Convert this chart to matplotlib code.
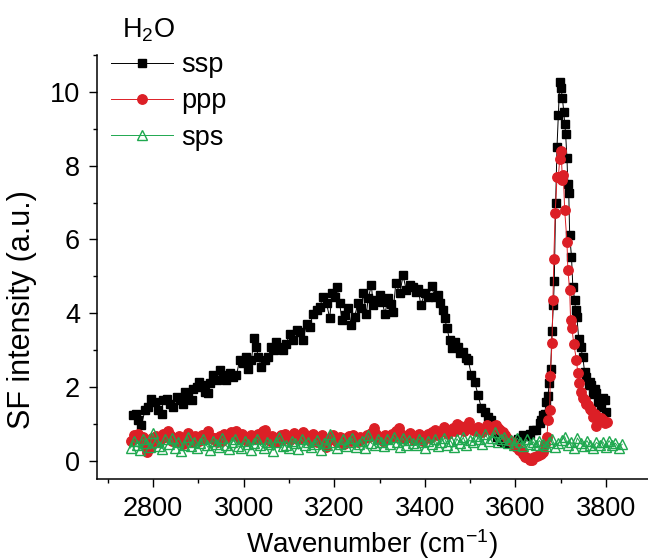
import matplotlib
matplotlib.use("Agg")
import matplotlib.pyplot as plt
import matplotlib.ticker as ticker

plt.rcParams["font.family"] = ["Liberation Sans", "DejaVu Sans"]
plt.rcParams["mathtext.fontset"] = "custom"
plt.rcParams["mathtext.rm"] = "Liberation Sans"
plt.rcParams["mathtext.it"] = "Liberation Sans:italic"

# ssp (black squares)
ssp_x = [2756, 2763, 2767, 2774, 2782, 2789, 2796, 2804, 2811, 2819,
         2822, 2830, 2837, 2844, 2852, 2859, 2866, 2871, 2877, 2885,
         2888, 2896, 2901, 2907, 2914, 2921, 2925, 2932, 2940, 2947,
         2955, 2962, 2969, 2977, 2984, 2991, 2999, 3006, 3010, 3017,
         3023, 3028, 3032, 3039, 3047, 3054, 3061, 3066, 3072, 3080,
         3087, 3094, 3102, 3109, 3117, 3124, 3131, 3139, 3146, 3153,
         3161, 3168, 3175, 3183, 3190, 3195, 3201, 3206, 3212, 3217,
         3223, 3230, 3238, 3245, 3252, 3260, 3264, 3271, 3275, 3282,
         3286, 3289, 3300, 3306, 3312, 3319, 3325, 3330, 3336, 3345,
         3352, 3359, 3367, 3374, 3381, 3386, 3391, 3400, 3407, 3415,
         3422, 3429, 3434, 3440, 3444, 3449, 3455, 3459, 3466, 3473,
         3477, 3485, 3490, 3496, 3503, 3510, 3518, 3525, 3532, 3540,
         3547, 3553, 3560, 3568, 3575, 3582, 3590, 3598, 3605, 3612,
         3617, 3625, 3632, 3639, 3646, 3654, 3657, 3661, 3665, 3668,
         3672, 3675, 3678, 3681, 3684, 3686, 3689, 3692, 3695, 3698,
         3701, 3704, 3707, 3709, 3711, 3714, 3716, 3718, 3720, 3724,
         3727, 3731, 3733, 3736, 3740, 3744, 3749, 3753, 3757, 3762,
         3765, 3768, 3772, 3775, 3779, 3782, 3786, 3790, 3793, 3797,
         3800]
ssp_y = [1.24, 1.28, 1.10, 0.97, 1.37, 1.46, 1.69, 1.60, 1.37, 1.28,
         1.64, 1.69, 1.55, 1.46, 1.73, 1.64, 1.55, 1.87, 1.73, 1.64,
         1.96, 2.00, 2.14, 2.05, 1.87, 1.83, 2.10, 2.32, 2.19, 2.46,
         2.32, 2.19, 2.37, 2.28, 2.32, 2.73, 2.64, 2.82, 2.50, 2.73,
         3.32, 3.09, 2.82, 2.55, 2.73, 2.82, 3.09, 3.00, 3.22, 3.09,
         3.00, 3.18, 3.45, 3.27, 3.54, 3.50, 3.27, 3.72, 3.63, 3.99,
         4.08, 4.17, 4.44, 4.27, 3.86, 4.54, 4.44, 4.72, 4.27, 3.81,
         3.95, 4.13, 3.68, 3.90, 4.27, 4.13, 4.54, 3.99, 4.40, 4.76,
         4.22, 4.35, 4.49, 4.30, 3.99, 4.40, 4.25, 4.04, 4.82, 4.54,
         5.03, 4.63, 4.76, 4.72, 4.58, 4.65, 4.22, 4.54, 4.44, 4.73,
         4.44, 4.49, 4.27, 4.08, 3.86, 3.59, 3.27, 3.05, 3.22, 3.09,
         2.91, 2.95, 2.80, 2.73, 2.32, 2.14, 1.78, 1.42, 1.33, 1.19,
         1.10, 0.85, 0.65, 0.55, 0.50, 0.48, 0.52, 0.55, 0.60, 0.62,
         0.70, 0.68, 0.74, 0.83, 0.83, 1.02, 1.10, 1.24, 1.28, 1.60,
         1.75, 2.11, 2.48, 3.52, 4.22, 4.88, 6.98, 8.50, 9.37, 10.27,
         10.10, 9.82, 9.45, 9.14, 8.87, 8.20, 7.50, 7.25, 6.12, 5.53,
         4.72, 4.35, 4.10, 3.90, 3.30, 3.09, 2.82, 2.40, 2.28, 2.05,
         2.15, 2.05, 1.80, 1.95, 1.83, 1.60, 1.64, 1.45, 1.70, 1.64,
         1.33]

# ppp (red circles)
ppp_x = [2752, 2757, 2762, 2767, 2772, 2777, 2782, 2787, 2792, 2797,
         2802, 2807, 2812, 2817, 2822, 2827, 2832, 2837, 2842, 2847,
         2852, 2857, 2862, 2867, 2872, 2877, 2882, 2887, 2892, 2897,
         2902, 2907, 2912, 2917, 2922, 2927, 2932, 2937, 2942, 2947,
         2952, 2957, 2962, 2967, 2972, 2977, 2982, 2987, 2992, 2997,
         3002, 3007, 3012, 3017, 3022, 3027, 3032, 3037, 3042, 3047,
         3052, 3057, 3062, 3067, 3072, 3077, 3082, 3087, 3092, 3097,
         3102, 3107, 3112, 3117, 3122, 3127, 3132, 3137, 3142, 3147,
         3152, 3157, 3162, 3167, 3172, 3177, 3182, 3187, 3192, 3197,
         3202, 3207, 3212, 3217, 3222, 3227, 3232, 3237, 3242, 3247,
         3252, 3257, 3262, 3267, 3272, 3277, 3282, 3287, 3292, 3297,
         3302, 3307, 3312, 3317, 3322, 3327, 3332, 3337, 3342, 3347,
         3352, 3357, 3362, 3367, 3372, 3377, 3382, 3387, 3392, 3397,
         3402, 3407, 3412, 3417, 3422, 3427, 3432, 3437, 3442, 3447,
         3452, 3457, 3462, 3467, 3472, 3477, 3482, 3487, 3492, 3497,
         3502, 3507, 3512, 3517, 3522, 3527, 3532, 3537, 3542, 3547,
         3552, 3557, 3562, 3567, 3572, 3577, 3582, 3587, 3592, 3597,
         3602, 3607, 3612, 3617, 3622, 3627, 3632, 3637, 3642, 3647,
         3652, 3657, 3662, 3666, 3670, 3672, 3676, 3677, 3681, 3683,
         3685, 3688, 3692, 3695, 3698, 3701, 3704, 3706, 3709, 3714,
         3716, 3720, 3722, 3725, 3729, 3735, 3738, 3740, 3746, 3750,
         3753, 3757, 3760, 3764, 3768, 3772, 3775, 3779, 3782, 3786,
         3790, 3793, 3797, 3802]
ppp_y = [0.55, 0.70, 0.62, 0.72, 0.58, 0.66, 0.45, 0.24, 0.35, 0.62,
         0.55, 0.68, 0.50, 0.60, 0.72, 0.65, 0.80, 0.70, 0.55, 0.62,
         0.50, 0.68, 0.58, 0.45, 0.66, 0.75, 0.60, 0.52, 0.68, 0.62,
         0.55, 0.70, 0.60, 0.74, 0.80, 0.66, 0.58, 0.62, 0.50, 0.68,
         0.55, 0.72, 0.62, 0.70, 0.78, 0.75, 0.80, 0.68, 0.60, 0.72,
         0.65, 0.55, 0.62, 0.70, 0.58, 0.66, 0.72, 0.60, 0.80, 0.85,
         0.62, 0.55, 0.68, 0.60, 0.52, 0.66, 0.70, 0.60, 0.74, 0.62,
         0.56, 0.68, 0.75, 0.62, 0.58, 0.66, 0.78, 0.70, 0.62, 0.55,
         0.72, 0.60, 0.52, 0.66, 0.70, 0.58, 0.38, 0.55, 0.62, 0.70,
         0.60, 0.52, 0.66, 0.58, 0.45, 0.62, 0.68, 0.55, 0.70, 0.60,
         0.52, 0.66, 0.58, 0.62, 0.70, 0.64, 0.75, 0.88, 0.72, 0.60,
         0.66, 0.55, 0.70, 0.62, 0.58, 0.72, 0.66, 0.80, 0.88, 0.72,
         0.66, 0.60, 0.70, 0.75, 0.62, 0.56, 0.68, 0.72, 0.60, 0.55,
         0.66, 0.72, 0.62, 0.79, 0.85, 0.70, 0.76, 0.82, 0.92, 0.78,
         0.72, 0.85, 0.90, 0.80, 1.01, 0.95, 0.88, 0.82, 0.94, 1.06,
         0.90, 0.85, 0.80, 0.92, 0.86, 0.78, 0.90, 0.97, 0.88, 0.84,
         0.95, 0.97, 0.90, 0.83, 0.78, 0.70, 0.62, 0.56, 0.50, 0.42,
         0.38, 0.29, 0.26, 0.20, 0.11, 0.08, 0.03, 0.02, 0.10, 0.14,
         0.15, 0.20, 0.25, 0.45, 0.65, 1.10, 1.37, 2.30, 3.20, 4.35,
         5.48, 6.72, 7.68, 7.70, 8.17, 8.40, 7.60, 7.75, 6.79, 5.94,
         5.17, 4.63, 3.83, 3.59, 3.18, 2.73, 2.37, 2.10, 1.86, 1.70,
         1.65, 1.55, 1.51, 1.40, 1.37, 1.20, 1.28, 0.94, 1.19, 1.10,
         1.15, 1.10, 1.02, 1.06]

# sps (green open triangles)
sps_x = [2750, 2757, 2764, 2771, 2778, 2785, 2792, 2799, 2806, 2813,
         2820, 2827, 2834, 2841, 2848, 2855, 2862, 2869, 2876, 2883,
         2890, 2897, 2904, 2911, 2918, 2925, 2932, 2939, 2946, 2953,
         2960, 2967, 2974, 2981, 2988, 2995, 3002, 3009, 3016, 3023,
         3030, 3037, 3044, 3051, 3058, 3065, 3072, 3079, 3086, 3093,
         3100, 3107, 3114, 3121, 3128, 3135, 3142, 3149, 3156, 3163,
         3170, 3177, 3184, 3191, 3198, 3205, 3212, 3219, 3226, 3233,
         3240, 3247, 3254, 3261, 3268, 3275, 3282, 3289, 3296, 3303,
         3310, 3317, 3324, 3331, 3338, 3345, 3352, 3359, 3366, 3373,
         3380, 3387, 3394, 3401, 3408, 3415, 3422, 3429, 3436, 3443,
         3450, 3457, 3464, 3471, 3478, 3485, 3492, 3499, 3506, 3513,
         3520, 3527, 3534, 3541, 3548, 3555, 3562, 3569, 3576, 3583,
         3590, 3597, 3604, 3611, 3618, 3625, 3632, 3639, 3646, 3653,
         3660, 3667, 3674, 3681, 3688, 3695, 3702, 3709, 3716, 3723,
         3730, 3737, 3744, 3751, 3758, 3765, 3772, 3779, 3786, 3793,
         3800, 3807, 3814, 3821, 3828, 3836]
sps_y = [0.35, 0.55, 0.42, 0.30, 0.60, 0.48, 0.38, 0.75, 0.52, 0.40,
         0.33, 0.58, 0.45, 0.62, 0.36, 0.50, 0.28, 0.44, 0.66, 0.40,
         0.52, 0.35, 0.48, 0.60, 0.42, 0.30, 0.55, 0.46, 0.38, 0.62,
         0.44, 0.32, 0.50, 0.58, 0.40, 0.36, 0.54, 0.45, 0.30, 0.48,
         0.60, 0.42, 0.35, 0.52, 0.46, 0.28, 0.50, 0.64, 0.40, 0.44,
         0.36, 0.55, 0.48, 0.32, 0.60, 0.42, 0.50, 0.38, 0.46, 0.56,
         0.30, 0.48, 0.42, 0.72, 0.52, 0.36, 0.45, 0.58, 0.40, 0.50,
         0.62, 0.38, 0.46, 0.55, 0.34, 0.70, 0.48, 0.42, 0.60, 0.52,
         0.40, 0.58, 0.46, 0.66, 0.50, 0.38, 0.62, 0.44, 0.56, 0.48,
         0.42, 0.60, 0.52, 0.36, 0.54, 0.46, 0.58, 0.40, 0.50, 0.62,
         0.44, 0.55, 0.38, 0.60, 0.48, 0.64, 0.42, 0.56, 0.50, 0.68,
         0.58, 0.46, 0.72, 0.55, 0.62, 0.78, 0.50, 0.60, 0.66, 0.48,
         0.56, 0.44, 0.62, 0.50, 0.40, 0.58, 0.46, 0.52, 0.42, 0.55,
         0.45, 0.40, 0.52, 0.60, 0.38, 0.48, 0.56, 0.66, 0.44, 0.50,
         0.36, 0.62, 0.48, 0.40, 0.55, 0.42, 0.34, 0.50, 0.44, 0.52,
         0.38, 0.55, 0.42, 0.48, 0.36, 0.45]

RED = "#dc1f26"
GREEN = "#1fa84f"

fig = plt.figure(figsize=(6.48, 5.6), dpi=100)
ax = fig.add_axes([0.149, 0.144, 0.851, 0.758])

ax.plot(ssp_x, ssp_y, "-", color="black", lw=0.7, marker="s", ms=6.3,
        mfc="black", mec="black", label="ssp")
ax.plot(ppp_x, ppp_y, "-", color=RED, lw=0.7, marker="o", ms=6.8,
        mfc=RED, mec=RED, label="ppp")
ax.plot(sps_x, sps_y, "-", color=GREEN, lw=0.7, marker="^", ms=7.5,
        mfc="none", mec=GREEN, mew=1.0, label="sps")

ax.set_xlim(2675, 3893)
ax.set_ylim(-0.5, 11)
ax.xaxis.set_major_locator(ticker.MultipleLocator(200))
ax.xaxis.set_minor_locator(ticker.MultipleLocator(100))
ax.yaxis.set_major_locator(ticker.MultipleLocator(2))
ax.yaxis.set_minor_locator(ticker.MultipleLocator(1))

ax.spines["top"].set_visible(False)
ax.spines["right"].set_visible(False)
for side in ("left", "bottom"):
    ax.spines[side].set_linewidth(1.1)
ax.tick_params(which="major", direction="out", length=6, width=1.0,
               labelsize=19.5, pad=6)
ax.tick_params(which="minor", direction="out", length=3.2, width=1.0)

ax.set_xlabel("Wavenumber (cm$^{-1}$)", fontsize=20)
ax.set_ylabel("SF intensity (a.u.)", fontsize=22)
ax.yaxis.set_label_coords(-0.108, 0.40)

leg = ax.legend(loc="upper left", bbox_to_anchor=(111 / 648, 1 - 52 / 560),
                bbox_transform=fig.transFigure, frameon=False, fontsize=19.5,
                numpoints=1, handlelength=2.3, handletextpad=0.3,
                labelspacing=0.38, borderpad=0, borderaxespad=0)
fig.text(148 / 648, 1 - 37 / 560, "H$_2$O", fontsize=19.5, ha="center",
         va="baseline")

plt.savefig("out.png", dpi=100)
